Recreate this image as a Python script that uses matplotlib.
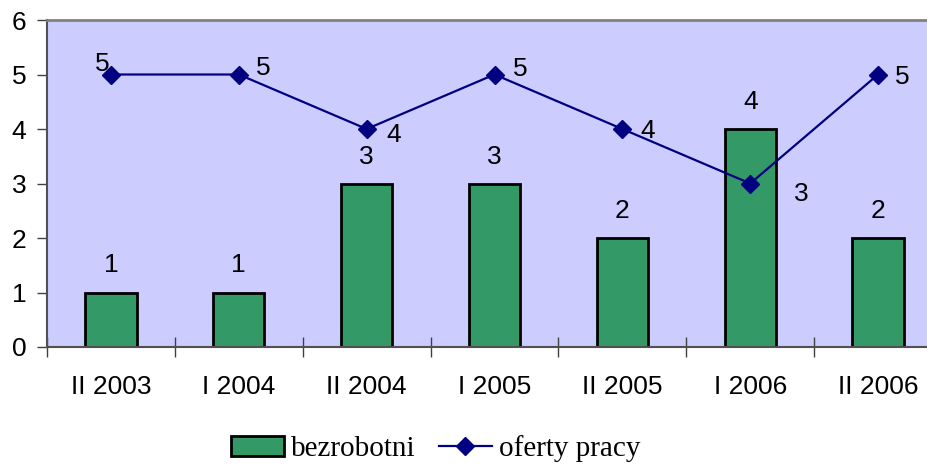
import numpy as np
import matplotlib.pyplot as plt
from matplotlib.patches import Patch
from matplotlib.lines import Line2D

kategorie = ['II 2003', 'I 2004', 'II 2004', 'I 2005', 'II 2005', 'I 2006', 'II 2006']
bezrobotni = [1, 1, 3, 3, 2, 4, 2]
oferty = [5, 5, 4, 5, 4, 3, 5]

# przesuniecia etykiet linii (px)
etyk_dx = [-9, 24, 27, 26, 25, 51, 24]
etyk_dy = [11, 7, -6, 6, -2, -10, -2]

W, H = 928, 465
fig = plt.figure(figsize=(W / 100, H / 100), dpi=100)
ax = fig.add_axes([47 / W, (H - 347) / H, (942 - 47) / W, (347 - 20) / H])
ax.set_facecolor('#CCCCFF')

x = np.arange(len(kategorie))
ax.bar(x, bezrobotni, width=0.4, color='#339966', edgecolor='black', linewidth=2, zorder=2)
ax.plot(x, oferty, color='#000080', linewidth=1.6, marker='D', markersize=9.5, zorder=3)

px = 72 / 100
for i in range(len(x)):
    ax.annotate(str(bezrobotni[i]), (x[i], bezrobotni[i]), xytext=(0, 27 * px),
                textcoords='offset points', ha='center', va='center', fontsize=19,
                family='Liberation Sans')
    ax.annotate(str(oferty[i]), (x[i], oferty[i]), xytext=(etyk_dx[i] * px, etyk_dy[i] * px),
                textcoords='offset points', ha='center', va='center', fontsize=19,
                family='Liberation Sans')

ax.set_xlim(-0.5, len(x) - 0.5)
ax.set_ylim(0, 6)
ax.set_xticks(np.arange(len(x) + 1) - 0.5)
ax.set_xticklabels([])
ax.set_xticks(x, minor=True)
ax.set_xticklabels(kategorie, minor=True, fontsize=19, family='Liberation Sans')
ax.tick_params(axis='x', which='major', direction='inout', length=15, width=1, color='#404040')
ax.tick_params(axis='x', which='minor', length=0, pad=20.5)
ax.set_yticks(range(7))
ax.set_yticklabels([str(v) for v in range(7)], fontsize=19, family='Liberation Sans')
ax.tick_params(axis='y', direction='out', length=7, width=1, color='#404040', pad=8)

for s in ['left', 'bottom']:
    ax.spines[s].set_color('#505050')
    ax.spines[s].set_linewidth(1.5)
ax.spines['top'].set_color('#808080')
ax.spines['top'].set_linewidth(2)
ax.spines['right'].set_visible(False)

uchwyty = [Patch(facecolor='#339966', edgecolor='black', linewidth=2),
           Line2D([], [], color='#000080', linewidth=1.6, marker='D', markersize=9.5)]
fig.legend(uchwyty, ['bezrobotni', 'oferty pracy'], loc='center', bbox_to_anchor=(436 / W, 1 - 449 / H),
           ncol=2, frameon=False, prop={'family': 'Liberation Serif', 'size': 21},
           handlelength=1.8, handletextpad=0.25, columnspacing=0.8)

fig.savefig('out.png', dpi=100)
